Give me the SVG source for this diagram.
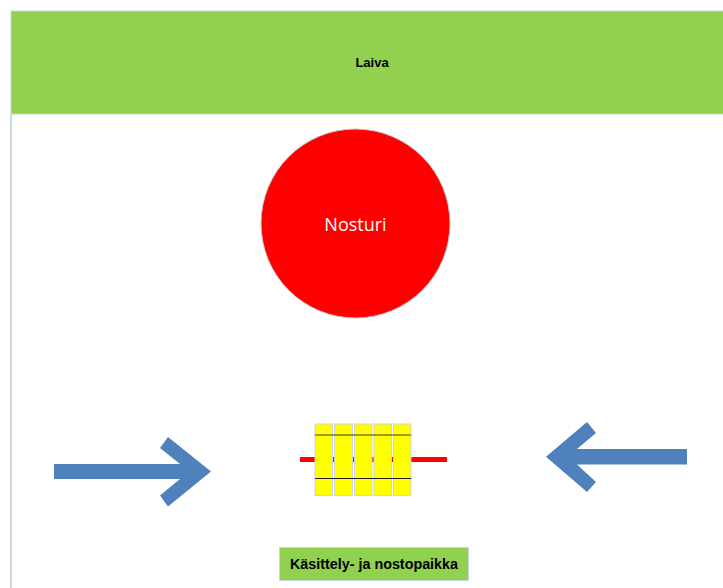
<svg xmlns="http://www.w3.org/2000/svg" width="723" height="588" viewBox="0 0 723 588">
  <style>
    .green { fill: #92d050; stroke: #c8d3e0; stroke-width: 1; }
    .lbl { font-family: "Liberation Sans", "DejaVu Sans", sans-serif; font-weight: bold; fill: #000; text-anchor: middle; }
    .arrow { fill: #4f81bd; }
    .slat { fill: #ffff00; stroke: #d0d4dc; stroke-width: 1; }
  </style>
  <rect width="723" height="588" fill="#ffffff"/>

  <!-- ship deck -->
  <g id="laiva">
    <rect class="green" x="11" y="11" width="713" height="103"/>
    <line x1="11" y1="114" x2="11" y2="588" stroke="#9eb1c8" stroke-width="1"/>
    <text class="lbl" x="372" y="67" font-size="13">Laiva</text>
  </g>

  <!-- crane -->
  <g id="nosturi">
    <circle cx="355.5" cy="223.5" r="94.5" fill="#ff0000" stroke="#c0c8d4" stroke-width="1"/>
    <text x="355.5" y="231" font-family="Open Sans, Liberation Sans, sans-serif" font-size="18" fill="#ffffff" text-anchor="middle">Nosturi</text>
  </g>

  <!-- load on the lifting bar -->
  <g id="kuorma">
    <rect x="300" y="457" width="147" height="5" fill="#ff0000"/>
    <rect class="slat" x="315" y="424" width="17.5" height="71.5"/>
    <rect class="slat" x="334.5" y="424" width="18" height="71.5"/>
    <rect class="slat" x="354.5" y="424" width="17.5" height="71.5"/>
    <rect class="slat" x="374" y="424" width="17.5" height="71.5"/>
    <rect class="slat" x="393.5" y="424" width="17.5" height="71.5"/>
    <line x1="315" y1="435" x2="411" y2="435" stroke="#7a7a10" stroke-width="1.5"/>
    <line x1="315" y1="478.5" x2="411" y2="478.5" stroke="#1a1a1a" stroke-width="1.2"/>
  </g>

  <!-- incoming directions -->
  <g id="connectors">
    <polygon class="arrow" points="54,464 180,464 160,448 168,437 211,471.5 168,506.5 160,495.5 180,479 54,479"/>
    <polygon class="arrow" points="687,449 577,449 596,433 587,422 546,456.7 587,492 596,482 577,464.5 687,464.5"/>
  </g>

  <!-- handling and lifting area -->
  <g id="kasittelypaikka">
    <rect class="green" x="279.5" y="547.5" width="189" height="33"/>
    <text class="lbl" x="374" y="569" font-size="14" textLength="168" lengthAdjust="spacingAndGlyphs">Käsittely- ja nostopaikka</text>
  </g>
</svg>
